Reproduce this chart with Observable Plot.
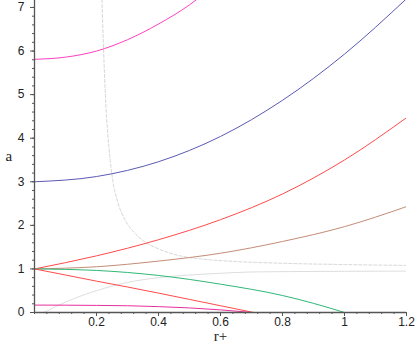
<!DOCTYPE html>
<html>
<head>
<meta charset="utf-8">
<script src="https://cdn.jsdelivr.net/npm/d3@7"></script>
<script src="https://cdn.jsdelivr.net/npm/@observablehq/plot@0.6"></script>
<style>
  body { margin: 0; background: #fff; }
  #chart svg { display: block; }
</style>
</head>
<body>
<div id="chart"></div>
<script>
// ---- data ----
const xTicks = [0.2, 0.4, 0.6, 0.8, 1.0, 1.2];
const xTickLabels = ["0.2", "0.4", "0.6", "0.8", "1", "1.2"];
const yTicks = [0, 1, 2, 3, 4, 5, 6, 7];

const rStd = [0, 0.2, 0.4, 0.6, 0.8, 1.0, 1.2];

const rMagTop = [0, 0.1, 0.2, 0.3, 0.4, 0.5, 0.55];
const aMagTop = [5.81, 5.86, 6.0, 6.26, 6.62, 7.06, 7.33];

const aBlue = [3.0, 3.12, 3.46, 4.04, 4.87, 5.93, 7.2];
const aRedUp = [1, 1.3, 1.67, 2.13, 2.72, 3.5, 4.47];
const aBrown = [1, 1.05, 1.18, 1.36, 1.63, 1.97, 2.43];

const rGreen = [0, 0.2, 0.4, 0.6, 0.8, 0.9, 1.0];
const aGreen = [1, 0.965, 0.85, 0.65, 0.39, 0.21, 0];

const rRedLow = [0, 0.1, 0.2, 0.3, 0.4, 0.5, 0.6, 0.707];
const aRedLow = [1, 0.86, 0.72, 0.585, 0.445, 0.3, 0.155, 0];

const rMagLow = [0, 0.1, 0.2, 0.3, 0.4, 0.5, 0.6, 0.7];
const aMagLow = [0.17, 0.168, 0.163, 0.155, 0.135, 0.105, 0.06, 0];

const rGrayUp = [0.217, 0.222, 0.23, 0.24, 0.25, 0.27, 0.29, 0.32, 0.35, 0.4, 0.47, 0.55, 0.65, 0.8, 1.0, 1.2];
const aGrayUp = [7.3, 6.2, 4.8, 3.8, 3.15, 2.5, 2.15, 1.85, 1.65, 1.46, 1.3, 1.22, 1.17, 1.13, 1.1, 1.08];

const rGrayLow = [0.03, 0.1, 0.2, 0.3, 0.4, 0.5, 0.6, 0.7, 0.85, 1.0, 1.2];
const aGrayLow = [0, 0.24, 0.5, 0.69, 0.8, 0.86, 0.9, 0.93, 0.94, 0.945, 0.95];

// ---- build tables ----
const zip = (rs, as) => rs.map((r, i) => ({r, a: as[i]}));
const series = [
  {data: zip(rGrayUp, aGrayUp), stroke: "#d6d6d6", dash: "3,2"},
  {data: zip(rGrayLow, aGrayLow), stroke: "#dedede", dash: null},
  {data: zip(rMagTop, aMagTop), stroke: "#ff40c0", dash: null},
  {data: zip(rStd, aBlue), stroke: "#5a5ab4", dash: null},
  {data: zip(rStd, aRedUp), stroke: "#ff4a4a", dash: null},
  {data: zip(rStd, aBrown), stroke: "#c48c78", dash: null},
  {data: zip(rGreen, aGreen), stroke: "#30b878", dash: null},
  {data: zip(rRedLow, aRedLow), stroke: "#ff4a4a", dash: null},
  {data: zip(rMagLow, aMagLow), stroke: "#e8309c", dash: null}
];

const xMinor = d3.range(0, 1.2001, 0.04).map(v => +v.toFixed(2));
const yMinor = d3.range(0, 7.2, 0.2).map(v => +v.toFixed(1));

const axisColor = "#555";

const chart = Plot.plot({
  width: 415,
  height: 346,
  marginLeft: 34,
  marginRight: 9,
  marginTop: 0,
  marginBottom: 34,
  style: {fontFamily: "'Liberation Sans', Arial, sans-serif", fontSize: "12px", color: "#222", background: "#fff"},
  x: {domain: [0, 1.2]},
  y: {domain: [0, 7.16]},
  marks: [
    ...series.map(s => Plot.line(s.data, {
      x: "r", y: "a", stroke: s.stroke, strokeWidth: 1,
      strokeDasharray: s.dash, curve: "monotone-x", clip: true
    })),
    Plot.axisX({ticks: xMinor, tickSize: 2, tickFormat: () => "", stroke: axisColor, label: null}),
    Plot.axisX({ticks: xTicks, tickSize: 4, tickPadding: 1, stroke: axisColor,
      tickFormat: (d, i) => xTickLabels[i], letterSpacing: 1, label: null}),
    Plot.axisY({ticks: yMinor, tickSize: 2, tickFormat: () => "", stroke: axisColor, label: null}),
    Plot.axisY({ticks: yTicks, tickSize: 4, tickPadding: 6, stroke: axisColor, label: null}),
    Plot.ruleX([0], {stroke: axisColor, strokeWidth: 1.3}),
    Plot.ruleY([0], {stroke: axisColor, strokeWidth: 1.3}),
    Plot.text(["r+"], {frameAnchor: "bottom", dy: 28, fontFamily: "'Liberation Serif', 'Times New Roman', serif",
      fontSize: 15, letterSpacing: 2, fill: "#222"}),
    Plot.text(["a"], {frameAnchor: "left", dx: -29, fontFamily: "'Liberation Serif', 'Times New Roman', serif",
      fontSize: 15, fill: "#222"})
  ]
});

document.getElementById("chart").appendChild(chart);
</script>
</body>
</html>
